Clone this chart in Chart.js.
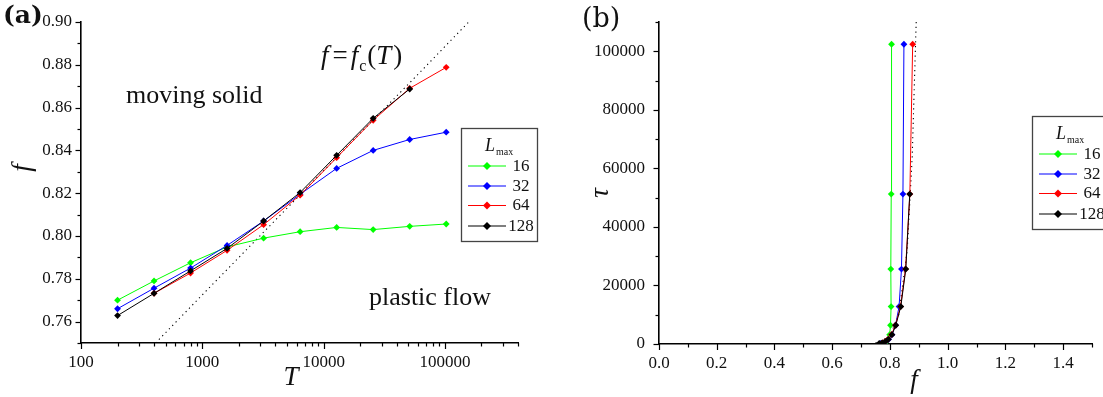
<!DOCTYPE html>
<html>
<head>
<meta charset="utf-8">
<script src="https://cdn.jsdelivr.net/npm/chart.js@4.4.1/dist/chart.umd.min.js"></script>
<style>
  html, body { margin: 0; padding: 0; background: #fff; }
  body { width: 1103px; height: 397px; position: relative; overflow: hidden; }
  #ca { position: absolute; left: 0; top: 0; }
  #cb { position: absolute; left: 550px; top: 0; }
</style>
</head>
<body>
<canvas id="ca" width="550" height="397"></canvas>
<canvas id="cb" width="553" height="397"></canvas>
<script>
// Simulation times T (also the relaxation-time axis tau in panel b)
const timeSteps = [200, 400, 800, 1600, 3200, 6400, 12800, 25600, 51200, 102400];
// Critical drive f for each maximum system size L_max
const sizes = ['16', '32', '64', '128'];
const f16  = [0.7700, 0.7790, 0.7875, 0.7949, 0.7990, 0.8020, 0.8040, 0.8030, 0.8045, 0.8056];
const f32  = [0.7660, 0.7756, 0.7850, 0.7956, 0.8070, 0.8195, 0.8316, 0.8400, 0.8451, 0.8485];
const f64  = [null,   0.7732, 0.7827, 0.7933, 0.8053, 0.8191, 0.8366, 0.8541, 0.8690, 0.8788];
const f128 = [0.7628, 0.7732, 0.7837, 0.7942, 0.8070, 0.8203, 0.8377, 0.8550, 0.8687, null];
const seriesColors = ['#00ff00', '#0000ff', '#ff0000', '#000000'];
// Boundary f = f_c(T) between moving solid and plastic flow
const fitT = [412, 1000, 3200, 10000, 32000, 64000, 110000, 157000];
const fitF = [0.7500, 0.7725, 0.8018, 0.8305, 0.8598, 0.8772, 0.8910, 0.9000];
// Labelled tick values
const fTickLabelsA = ['0.76', '0.78', '0.80', '0.82', '0.84', '0.86', '0.88', '0.90'];
const tTickLabelsA = ['100', '1000', '10000', '100000'];
const fTickLabelsB = ['0.0', '0.2', '0.4', '0.6', '0.8', '1.0', '1.2', '1.4'];
const tauTickLabelsB = ['0', '20000', '40000', '60000', '80000', '100000'];

const allSeries = [f16, f32, f64, f128];
const SERIF = '"Liberation Serif", "Times New Roman", serif';
const INK = '#111';

function pairs(xs, ys) {
  const out = [];
  xs.forEach((x, i) => { if (x != null && ys[i] != null) out.push({ x: x, y: ys[i] }); });
  return out;
}

function linearTicks(min, max, step) {
  const n = Math.round((max - min) / step);
  const t = [];
  for (let i = 0; i <= n; i++) t.push({ value: +(min + i * step).toFixed(6) });
  return t;
}

function logTicks(min, max) {
  const t = [];
  for (let e = Math.round(Math.log10(min)); Math.pow(10, e) <= max; e++) {
    for (let m = 1; m <= 9; m++) {
      const v = m * Math.pow(10, e);
      if (v >= min && v <= max) t.push({ value: v });
    }
  }
  return t;
}

// Outward tick marks: long for labelled ticks, short for the rest
const tickMarks = {
  id: 'tickMarks',
  afterDraw(chart) {
    const ctx = chart.ctx, a = chart.chartArea;
    const xs = chart.scales.x, ys = chart.scales.y;
    ctx.save();
    ctx.strokeStyle = '#000';
    ctx.lineWidth = 1.2;
    xs.ticks.forEach(t => {
      const px = Math.round(xs.getPixelForValue(t.value)) + 0.5;
      const len = t.label !== '' ? 6 : 3.5;
      ctx.beginPath(); ctx.moveTo(px, a.bottom); ctx.lineTo(px, a.bottom + len); ctx.stroke();
    });
    ys.ticks.forEach(t => {
      const py = Math.round(ys.getPixelForValue(t.value)) + 0.5;
      const len = t.label !== '' ? 5.5 : 3.5;
      ctx.beginPath(); ctx.moveTo(a.left, py); ctx.lineTo(a.left - len, py); ctx.stroke();
    });
    ctx.restore();
  }
};

function diamond(ctx, cx, cy, r, color) {
  ctx.beginPath();
  ctx.moveTo(cx, cy - r); ctx.lineTo(cx + r, cy); ctx.lineTo(cx, cy + r); ctx.lineTo(cx - r, cy);
  ctx.closePath();
  ctx.fillStyle = color; ctx.fill();
}

function drawLegend(ctx, left, top, w, h) {
  ctx.save();
  ctx.fillStyle = '#fff';
  ctx.fillRect(left, top, w, h);
  ctx.strokeStyle = '#444';
  ctx.lineWidth = 1.3;
  ctx.strokeRect(left + 0.5, top + 0.5, w, h);
  ctx.fillStyle = INK;
  ctx.textBaseline = 'alphabetic';
  ctx.textAlign = 'left';
  ctx.font = 'italic 18px ' + SERIF;
  ctx.fillText('L', left + 24, top + 23);
  ctx.font = '10px ' + SERIF;
  ctx.fillText('max', left + 35, top + 27);
  const rows = [37.5, 57.5, 77, 97.5];
  sizes.forEach((s, i) => {
    const y = top + rows[i];
    ctx.strokeStyle = seriesColors[i];
    ctx.lineWidth = 1.2;
    ctx.beginPath(); ctx.moveTo(left + 7, y + 0.5); ctx.lineTo(left + 45, y + 0.5); ctx.stroke();
    diamond(ctx, left + 26, y + 0.5, 4, seriesColors[i]);
    ctx.fillStyle = INK;
    ctx.font = '17px ' + SERIF;
    ctx.textBaseline = 'middle';
    ctx.textAlign = 'center';
    ctx.fillText(s, left + 60, y + 1);
  });
  ctx.restore();
}

function makeDatasets(swap) {
  const ds = [];
  const orders = [3, 2, 1, 0];
  allSeries.forEach((fs, i) => {
    ds.push({
      label: sizes[i],
      data: swap ? pairs(fs, timeSteps) : pairs(timeSteps, fs),
      borderColor: seriesColors[i],
      backgroundColor: seriesColors[i],
      borderWidth: 1,
      pointStyle: 'rectRot',
      pointRadius: 3.4,
      pointBorderWidth: 0,
      tension: 0,
      order: orders[i]
    });
  });
  ds.push({
    label: 'fc',
    data: swap ? pairs(fitF, fitT) : pairs(fitT, fitF),
    borderColor: '#000',
    borderWidth: 1.1,
    borderDash: [1.2, 3.6],
    pointRadius: 0,
    tension: 0,
    order: 9
  });
  return ds;
}

const tickFont = { family: SERIF, size: 17 };

function axisOptions(extra) {
  return Object.assign({
    grid: { drawOnChartArea: false, drawTicks: true, tickLength: 6, tickColor: 'rgba(0,0,0,0)' },
    border: { display: true, color: '#000', width: 1.6 }
  }, extra);
}

// Draws a run of [text, font, gapAfter, dy] pieces left to right
function drawRun(ctx, x, y, pieces) {
  pieces.forEach(p => {
    ctx.font = p[1];
    ctx.fillText(p[0], x, y + (p[3] || 0));
    x += ctx.measureText(p[0]).width + p[2];
  });
}

// Panel (a): critical drive versus time
const annotationsA = {
  id: 'annotationsA',
  afterDraw(chart) {
    const ctx = chart.ctx;
    ctx.save();
    ctx.fillStyle = INK;
    ctx.textBaseline = 'alphabetic';
    ctx.textAlign = 'left';
    ctx.font = 'bold 25px "DejaVu Serif", serif';
    ctx.fillText('(a)', 3, 23);
    ctx.font = '26px ' + SERIF;
    ctx.fillText('moving solid', 126, 103);
    ctx.fillText('plastic flow', 369, 305);
    // f = f_c(T)
    const it = 'italic 27px ' + SERIF, rm = '27px ' + SERIF, sub = '16px ' + SERIF;
    drawRun(ctx, 321, 64, [
      ['f', it, 4], ['=', rm, 3], ['f', it, 1], ['c', sub, 1, 7],
      ['(', rm, 0], ['T', it, 2], [')', rm, 0]
    ]);
    // axis titles
    ctx.font = 'italic 27px ' + SERIF;
    ctx.textAlign = 'center';
    ctx.fillText('T', 291, 385);
    ctx.save();
    ctx.translate(30, 168);
    ctx.rotate(-Math.PI / 2);
    ctx.fillText('f', 0, 0);
    ctx.restore();
    ctx.restore();
    drawLegend(ctx, 461, 128, 76, 113);
  }
};

new Chart(document.getElementById('ca'), {
  type: 'line',
  data: { datasets: makeDatasets(false) },
  options: {
    responsive: false,
    animation: false,
    events: [],
    layout: { padding: { left: 0, right: 32, top: 22, bottom: 4 } },
    plugins: { legend: { display: false }, tooltip: { enabled: false } },
    scales: {
      x: axisOptions({
        type: 'logarithmic',
        min: 100, max: 400000,
        afterBuildTicks: s => { s.ticks = logTicks(100, 400000); },
        afterFit: s => { s.height = 50; },
        ticks: {
          autoSkip: false, maxRotation: 0, padding: 3, color: INK, font: tickFont,
          callback: v => tTickLabelsA.includes(String(Math.round(v))) ? String(Math.round(v)) : ''
        }
      }),
      y: axisOptions({
        type: 'linear',
        min: 0.75, max: 0.90,
        afterBuildTicks: s => { s.ticks = linearTicks(0.75, 0.90, 0.01); },
        afterFit: s => { s.width = 81; },
        ticks: {
          autoSkip: false, padding: 3, color: INK, font: tickFont,
          callback: v => fTickLabelsA.includes(v.toFixed(2)) ? v.toFixed(2) : ''
        }
      })
    }
  },
  plugins: [tickMarks, annotationsA]
});

// Panel (b): time versus drive
const annotationsB = {
  id: 'annotationsB',
  afterDraw(chart) {
    const ctx = chart.ctx;
    ctx.save();
    ctx.fillStyle = INK;
    ctx.textBaseline = 'alphabetic';
    ctx.textAlign = 'left';
    ctx.font = '27px "DejaVu Serif", serif';
    ctx.fillText('(b)', 32, 27);
    ctx.font = 'italic 27px ' + SERIF;
    ctx.textAlign = 'center';
    ctx.fillText('f', 364, 388);
    ctx.save();
    ctx.translate(58, 193);
    ctx.rotate(-Math.PI / 2);
    ctx.fillText('\u03C4', 0, 0);
    ctx.restore();
    ctx.restore();
    drawLegend(ctx, 482, 116, 100, 113);
  }
};

new Chart(document.getElementById('cb'), {
  type: 'line',
  data: { datasets: makeDatasets(true) },
  options: {
    responsive: false,
    animation: false,
    events: [],
    layout: { padding: { left: 0, right: 11, top: 22, bottom: 3 } },
    plugins: { legend: { display: false }, tooltip: { enabled: false } },
    scales: {
      x: axisOptions({
        type: 'linear',
        min: 0, max: 1.5,
        afterBuildTicks: s => { s.ticks = linearTicks(0, 1.5, 0.1); },
        afterFit: s => { s.height = 50; },
        ticks: {
          autoSkip: false, maxRotation: 0, padding: 3, color: INK, font: tickFont,
          callback: v => fTickLabelsB.includes(v.toFixed(1)) ? v.toFixed(1) : ''
        }
      }),
      y: axisOptions({
        type: 'linear',
        min: 0, max: 110000,
        afterBuildTicks: s => { s.ticks = linearTicks(0, 110000, 10000); },
        afterFit: s => { s.width = 109; },
        ticks: {
          autoSkip: false, padding: 8, color: INK, font: tickFont,
          callback: v => tauTickLabelsB.includes(String(Math.round(v))) ? String(Math.round(v)) : ''
        }
      })
    }
  },
  plugins: [tickMarks, annotationsB]
});
</script>
</body>
</html>
